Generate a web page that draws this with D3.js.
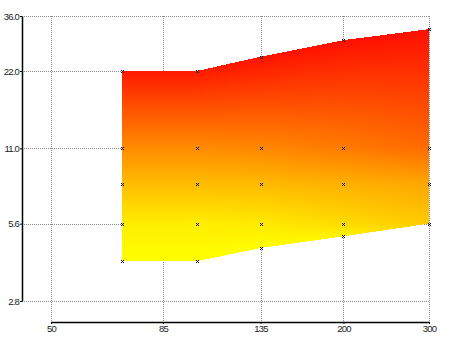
<!DOCTYPE html>
<html>
<head>
<meta charset="utf-8">
<script src="https://cdn.jsdelivr.net/npm/d3@7"></script>
<style>
  body { margin: 0; background: #fff; }
  .tick text, .lbl { font-family: "Liberation Sans", Arial, sans-serif; font-size: 9.5px; fill: #222; letter-spacing: -0.8px; }
</style>
</head>
<body>
<svg id="chart" width="450" height="337"></svg>
<script>
// Mesh columns (x) and the y level of each mesh row, bottom row first
const xValues = [70, 100, 135, 200, 300];
const rowLevels = [
  [4.0, 4.0, 4.5, 5.0, 5.6],
  [5.6, 5.6, 5.6, 5.6, 5.6],
  [8.0, 8.0, 8.0, 8.0, 8.0],
  [11.0, 11.0, 11.0, 11.0, 11.0],
  [22.0, 22.0, 25.0, 29.0, 32.0]
];
// Colour value at each mesh vertex (0 = yellow, 1 = red), same layout as rowLevels
const rowHeat = [
  [0.00, 0.00, 0.00, 0.05, 0.22],
  [0.07, 0.07, 0.09, 0.15, 0.22],
  [0.28, 0.28, 0.29, 0.33, 0.37],
  [0.48, 0.48, 0.50, 0.55, 0.62],
  [0.96, 0.96, 0.99, 1.00, 1.00]
];
const xTicks = [50, 85, 135, 200, 300];
const yTicks = [2.8, 5.6, 11, 22, 36];
const yTickLabels = ["2.8", "5.6", "11.0", "22.0", "36.0"];

const svg = d3.select("#chart");
const x = d3.scaleLog().domain([50, 300]).range([51, 429]);
const y = d3.scaleLog().domain([2.8, 36]).range([301, 16]);
const color = d3.scaleLinear().domain([0, 1]).range(["#ffff00", "#ff1000"]).interpolate(d3.interpolateRgb);

// Dotted grid
const grid = svg.append("g").attr("stroke", "#8c8c8c").attr("stroke-width", 1).attr("stroke-dasharray", "1,1");
grid.selectAll("line.h").data(yTicks).join("line")
  .attr("x1", 22).attr("x2", 429)
  .attr("y1", d => Math.round(y(d)) + 0.5).attr("y2", d => Math.round(y(d)) + 0.5);
grid.selectAll("line.v").data(xTicks).join("line")
  .attr("y1", 16).attr("y2", 322)
  .attr("x1", d => Math.round(x(d)) + 0.5).attr("x2", d => Math.round(x(d)) + 0.5);

// Colour-filled mesh drawn as one-pixel columns with vertical gradients
const defs = svg.append("defs");
const fill = svg.append("g").attr("shape-rendering", "crispEdges");
const px0 = Math.round(x(xValues[0]));
const px1 = Math.round(x(xValues[xValues.length - 1]));
const lerp = (a, b, t) => a + (b - a) * t;
for (let px = px0; px < px1; px++) {
  const cx = px + 0.5;
  let i = 0;
  while (i < xValues.length - 2 && cx > x(xValues[i + 1])) i++;
  const xa = x(xValues[i]), xb = x(xValues[i + 1]);
  const t = Math.max(0, Math.min(1, (cx - xa) / (xb - xa)));
  const ys = rowLevels.map(r => lerp(y(r[i]), y(r[i + 1]), t));
  const hs = rowHeat.map(r => lerp(r[i], r[i + 1], t));
  const top = ys[ys.length - 1], bottom = ys[0];
  const id = "col" + px;
  const g = defs.append("linearGradient").attr("id", id)
    .attr("gradientUnits", "userSpaceOnUse")
    .attr("x1", 0).attr("x2", 0).attr("y1", top).attr("y2", bottom);
  for (let k = ys.length - 1; k >= 0; k--) {
    g.append("stop").attr("offset", (ys[k] - top) / (bottom - top)).attr("stop-color", color(hs[k]));
  }
  fill.append("rect")
    .attr("x", px).attr("width", 1)
    .attr("y", Math.round(top)).attr("height", Math.round(bottom) - Math.round(top))
    .attr("fill", "url(#" + id + ")");
}

// Vertex markers
const pts = [];
rowLevels.forEach(r => r.forEach((v, i) => pts.push([xValues[i], v])));
svg.append("g").selectAll("path").data(pts).join("path")
  .attr("transform", d => `translate(${Math.round(x(d[0])) + 0.5},${Math.round(y(d[1])) + 0.5})`)
  .attr("d", "M-1.5,-1.5L1.5,1.5M-1.5,1.5L1.5,-1.5")
  .attr("stroke", "#000").attr("stroke-width", 1).attr("fill", "none");

// Axes
const yAxis = svg.append("g").attr("transform", "translate(22,0)")
  .call(d3.axisLeft(y).tickValues(yTicks).tickFormat((d, i) => yTickLabels[i]).tickSizeInner(2).tickSizeOuter(0).tickPadding(1));
const xAxis = svg.append("g").attr("transform", "translate(0,322)")
  .call(d3.axisBottom(x).tickValues(xTicks).tickFormat(d3.format("d")).tickSizeInner(2).tickSizeOuter(0).tickPadding(1));
[yAxis, xAxis].forEach(a => {
  a.select(".domain").attr("stroke", "#000").attr("stroke-width", 1.5);
  a.selectAll(".tick line").attr("stroke", "#000");
  a.attr("font-family", null).attr("font-size", null);
});
</script>
</body>
</html>
